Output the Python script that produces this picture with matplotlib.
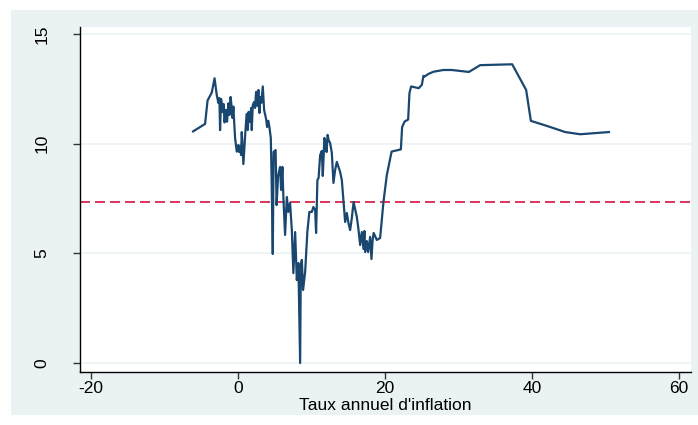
import matplotlib
matplotlib.use("Agg")
import matplotlib.pyplot as plt
from matplotlib.patches import Rectangle

plt.rcParams['font.family'] = ['Liberation Sans', 'DejaVu Sans']
plt.rcParams['lines.scale_dashes'] = False

inflation = [-6.12, -4.49, -4.15, -3.58, -3.20, -2.90, -2.68, -2.54, -2.45, -2.31,
             -2.11, -1.97, -1.84, -1.66, -1.50, -1.32, -1.18, -1.02, -0.86, -0.75,
             -0.64, -0.41, -0.18, 0.04, 0.14, 0.27, 0.41, 0.50, 0.72, 0.95,
             1.16, 1.32, 1.43, 1.63, 1.77, 1.86, 2.00, 2.18, 2.31, 2.45,
             2.63, 2.76, 2.90, 2.99, 3.16, 3.36, 3.54, 3.81, 3.95, 4.12,
             4.26, 4.45, 4.56, 4.72, 4.83, 5.10, 5.24, 5.44, 5.71, 5.85,
             6.03, 6.16, 6.39, 6.63, 6.84, 7.07, 7.31, 7.52, 7.76, 7.99,
             8.20, 8.34, 8.44, 8.53, 8.67, 8.84, 9.12, 9.43, 9.70, 10.03,
             10.24, 10.48, 10.61, 10.79, 10.95, 11.16, 11.39, 11.52, 11.74, 11.88,
             12.04, 12.18, 12.31, 12.52, 12.75, 12.97, 13.20, 13.43, 13.88, 14.11,
             14.33, 14.56, 14.79, 15.01, 15.24, 15.47, 15.71, 16.15, 16.37, 16.60,
             16.83, 17.05, 17.18, 17.28, 17.51, 17.69, 17.96, 18.14, 18.30, 18.44,
             18.87, 19.32, 19.77, 20.23, 20.88, 22.14, 22.31, 22.65, 23.13, 23.31,
             23.54, 24.56, 24.99, 25.21, 25.35, 25.89, 26.57, 27.93, 29.07, 31.39,
             32.93, 37.28, 39.18, 39.82, 42.00, 44.49, 46.53, 50.44]

values = [10.56, 10.90, 11.97, 12.33, 12.98, 12.22, 11.86, 12.08, 10.62, 12.04,
          11.45, 11.81, 10.97, 11.54, 11.00, 11.84, 11.31, 12.13, 11.63, 11.17,
          11.69, 10.26, 9.64, 9.94, 9.62, 9.90, 9.48, 10.53, 9.07, 10.32,
          11.35, 10.62, 11.45, 10.99, 11.63, 10.62, 11.76, 11.90, 11.63, 12.36,
          11.72, 12.45, 11.40, 12.13, 11.86, 12.61, 11.54, 11.13, 10.76, 11.04,
          10.76, 10.26, 8.44, 4.97, 9.62, 9.71, 7.20, 8.53, 8.94, 7.89,
          8.94, 7.57, 5.84, 7.57, 6.89, 7.30, 6.06, 4.10, 5.97, 3.78,
          4.56, 2.05, 0.00, 4.42, 4.70, 3.33, 4.15, 6.02, 6.89, 6.89,
          7.11, 6.98, 5.93, 8.34, 8.44, 9.48, 9.67, 8.53, 10.26, 10.12,
          9.62, 10.40, 10.17, 10.03, 9.58, 8.21, 8.80, 9.17, 8.71, 8.34,
          7.39, 6.43, 6.84, 6.38, 6.06, 6.61, 7.34, 6.66, 6.11, 5.38,
          5.97, 5.20, 6.02, 5.06, 5.56, 5.06, 5.75, 4.74, 5.61, 5.93,
          5.61, 5.70, 7.34, 8.57, 9.64, 9.74, 10.76, 11.01, 11.10, 12.31,
          12.61, 12.53, 12.68, 13.09, 13.06, 13.18, 13.28, 13.36, 13.36, 13.27,
          13.58, 13.62, 12.45, 11.04, 10.81, 10.53, 10.43, 10.53]

ref_level = 7.34
x_ticks = [-20, 0, 20, 40, 60]
y_ticks = [0, 5, 10, 15]
x_label = "Taux annuel d'inflation"

bg = '#EAF2F3'
navy = '#1a476f'
red = '#D2143C'

fig = plt.figure(figsize=(6.98, 4.25), dpi=100, facecolor='white')
fig.patches.append(Rectangle((11 / 698, 10 / 425), 1 - 11 / 698, 1 - 20 / 425,
                             transform=fig.transFigure, facecolor=bg,
                             edgecolor='none', zorder=-10))

ax = fig.add_axes([80 / 698, 1 - 372 / 425, (691 - 80) / 698, (372 - 27) / 425])
ax.set_facecolor('white')

for yv in y_ticks:
    ax.axhline(yv, color=bg, lw=1.2, zorder=0)

ax.plot(inflation, values, color=navy, lw=1.6, zorder=3)
ax.axhline(ref_level, color=red, lw=1.2, dashes=(7.2, 3.6), zorder=2)

ax.set_xlim(-21.5, 61.6)
ax.set_ylim(-0.41, 15.32)
ax.set_xticks(x_ticks)
ax.set_yticks(y_ticks)
ax.set_xticklabels([str(v) for v in x_ticks])
ax.set_yticklabels([str(v) for v in y_ticks], rotation=90, va='center')

for s in ['top', 'right']:
    ax.spines[s].set_visible(False)
for s in ['left', 'bottom']:
    ax.spines[s].set_color('black')
    ax.spines[s].set_linewidth(1.0)

ax.tick_params(axis='both', direction='out', length=5, width=1, color='#333333',
               labelsize=12.5, labelcolor='black')
ax.tick_params(axis='y', pad=17)
ax.tick_params(axis='x', pad=1.5)
ax.set_xlabel(x_label, fontsize=12.5, labelpad=1.5)

fig.savefig('out.png', dpi=100, facecolor=fig.get_facecolor())
